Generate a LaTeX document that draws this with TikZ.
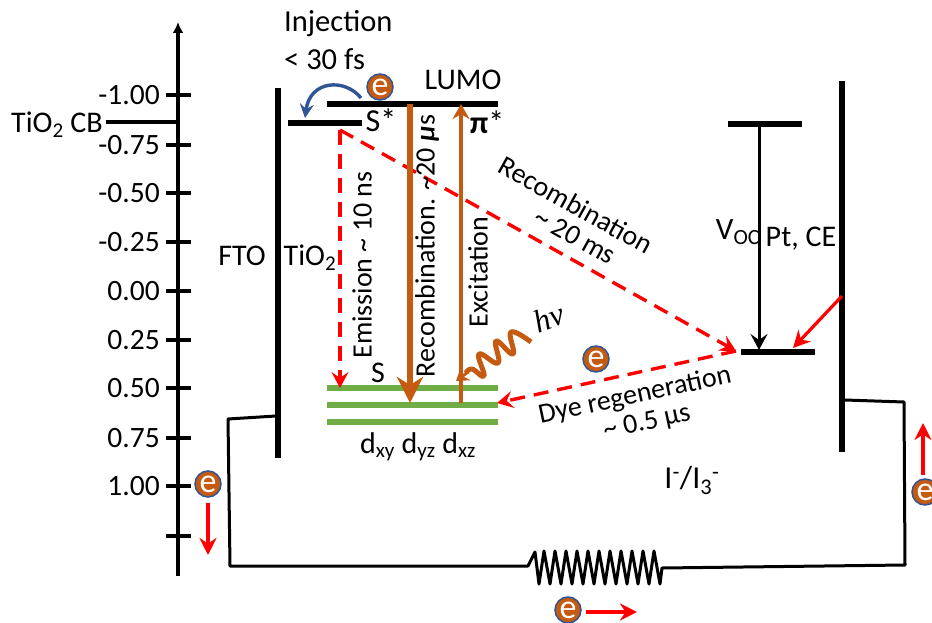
\documentclass[tikz,border=0pt]{standalone}
\usepackage{fontspec}
\setmainfont{Carlito}
\newfontfamily\photonfont{Liberation Serif}
\usepackage{tikz}
\usetikzlibrary{arrows.meta}
\definecolor{dyebrown}{HTML}{C55A11}
\definecolor{dyegreen}{HTML}{70AD47}
\definecolor{dyeblue}{HTML}{2F5597}

\begin{document}
\begin{tikzpicture}[
  x=1pt,y=-1pt,
  note/.style={font=\fontsize{28}{32}\selectfont,inner sep=0pt},
  bignote/.style={font=\fontsize{30}{34}\selectfont,inner sep=0pt},
  ticklabel/.style={font=\fontsize{29.5}{32}\selectfont,inner sep=0pt,anchor=east},
  level/.style={line width=6pt},
  orbital/.style={dyegreen,line width=6pt},
  electrode/.style={line width=6.5pt},
  wire/.style={line width=3pt,line join=round},
  redflow/.style={red,line width=3.2pt,-{Stealth[length=17pt,width=17pt]}},
  redcut/.style={red,line width=3.4pt,dash pattern=on 15pt off 9pt,-{Stealth[length=16pt,width=17pt,inset=6pt]}},
  electron/.style={circle,draw=dyeblue,fill=dyebrown,line width=1.5pt,minimum size=26pt,inner sep=0pt,
    text=white,font=\fontsize{34}{34}\selectfont}
]
  \useasboundingbox (0,0) rectangle (932,623);

  % Energy axis with its ticks.
  \coordinate (axisfoot) at (178,576);
  \coordinate (axistop) at (178,22);
  \draw[line width=3.6pt,-{Latex[length=11pt,width=11pt]}] (axisfoot) -- (axistop);
  \foreach \ypos/\val in {95/-1.00,145/-0.75,193/-0.50,242/-0.25,291/0.00,340/0.25,388/0.50,438/0.75,486/1.00}
    \node[ticklabel] (tick\val) at (160,\ypos) {\val};
  \foreach \ypos in {95,145,193,242,291,340,388,438,486,536}
    \draw[line width=3.6pt] (166,\ypos) -- (191,\ypos);
  \draw[line width=3.6pt] (106,122) -- (178,122);
  \node[bignote,anchor=east] (cblabel) at (103,125) {TiO\textsubscript{2} CB};

  % Electrodes and levels.
  \draw[electrode] (278,88) -- (278,458);
  \draw[electrode] (842,81) -- (842,452);
  \draw[level] (327,104) -- (498,104);
  \draw[level] (288,123) -- (362,123);
  \draw[level] (728,124) -- (802,124);
  \draw[level] (741,352) -- (815,352);
  \draw[orbital] (327,388) -- (498,388);
  \draw[orbital] (327,405) -- (498,405);
  \draw[orbital] (327,422) -- (498,422);

  % Outer circuit with the load.
  \coordinate (ftowire) at (276,416);
  \coordinate (ptwire) at (845,400);
  \draw[wire] (ftowire) -- (228,419) -- (230,566) -- (528,566) -- (535,552)
    \foreach \xpos in {0,1,...,10} {-- (539+\xpos*11,584) -- (544+\xpos*11,551)}
    -- (660,584) -- (662,568) -- (905,565) -- (904,402) -- (ptwire);

  % Transfer arrows.
  \coordinate (sstar) at (340,130);
  \coordinate (dyelevel) at (736,351);
  \coordinate (homo) at (340,388);
  \coordinate (greenmid) at (497,403);
  \draw[redcut] (sstar) -- (homo);
  \draw[redcut] (sstar) -- (dyelevel);
  \draw[redcut] (dyelevel) -- (greenmid);
  \draw[dyebrown,line width=5.5pt,-{Stealth[length=26pt,width=26pt,inset=8pt]}] (410,104) -- (410,403);
  \draw[dyebrown,line width=3.4pt,-{Stealth[length=15pt,width=17pt]}] (461,403) -- (461,104);
  \draw[line width=3pt,-{Stealth[length=16pt,width=17pt,inset=6pt]}] (759,124) -- (759,350);
  \draw[dyeblue,line width=3.4pt,-{Stealth[length=14pt,width=14pt,inset=5pt]}]
    (361,98) .. controls (345,78) and (310,80) .. (305,118);

  % Incoming photon.
  \draw[dyebrown,line width=5pt,line join=round]
    plot[smooth,tension=0.75] coordinates {(531,342) (511,332) (513,354) (496,341) (498,363) (479,354) (484,376) (472,369) (466,373)};
  \draw[dyebrown,line width=3pt,-{Stealth[length=12pt,width=16pt,inset=4pt]}] (468,372) -- (456,381);

  % Electron flow outside the cell.
  \draw[redflow] (842,296) -- (793,348);
  \draw[redflow] (208,503) -- (208,555);
  \draw[redflow] (923,475) -- (923,423);
  \draw[redflow] (586,612) -- (637,612);

  \node[electron] (ecelltop) at (380,87) {e};
  \node[electron] (ecellmid) at (596,359) {e};
  \node[electron] (eleft) at (208,484) {e};
  \node[electron] (eright) at (925,492) {e};
  \node[electron] (ebottom) at (568,610) {e};

  % Labels.
  \node[bignote,font=\fontsize{30.5}{34}\selectfont,anchor=west] (injection) at (284,24) {Injection};
  \node[bignote,font=\fontsize{30.5}{34}\selectfont,anchor=west] (injecttime) at (284,59) {< 30 fs};
  \node[bignote] (lumo) at (463,80) {LUMO};
  \node[bignote,font=\fontsize{32}{34}\selectfont] (sstarlabel) at (381,120) {S*};
  \node[bignote,font=\fontsize{32}{34}\selectfont] (pistar) at (487,122) {\textbf{π}*};
  \node[bignote] (fto) at (242,256) {FTO};
  \node[bignote] (tio) at (310,258) {TiO\textsubscript{2}};
  \node[note,rotate=90] (emission) at (362,265) {Emission \textasciitilde{} 10 ns};
  \node[note,rotate=90] (recomb) at (427,246) {Recombination. \textasciitilde{}20 \textbf{\textit{μ}}s};
  \node[note,rotate=90] (excitation) at (478,272) {Excitation};
  \node[note,rotate=-29] (recombcell) at (576,205) {Recombination};
  \node[note,rotate=-29] (recombtime) at (575,236) {\textasciitilde{} 20 ms};
  \node[note,rotate=12] (dyeregen) at (635,396) {Dye regeneration};
  \node[note,rotate=12] (regentime) at (647,423) {\textasciitilde{} 0.5 μs};
  \node[bignote,font=\fontsize{31}{34}\selectfont] (voc) at (738,232) {V\textsubscript{OC}};
  \node[bignote] (ptce) at (801,239) {Pt, CE};
  \node[bignote] (slabel) at (378,373) {S};
  \node[bignote,rotate=20,font=\fontsize{32}{34}\selectfont] (photon) at (549,318) {\photonfont\textit{hν}};
  \node[bignote] (dlabels) at (418,447) {d\textsubscript{xy} d\textsubscript{yz} d\textsubscript{xz}};
  \node[bignote,font=\fontsize{32}{34}\selectfont] (redox) at (692,480) {I\textsuperscript{-}/I\textsubscript{3}\textsuperscript{-}};
\end{tikzpicture}
\end{document}
